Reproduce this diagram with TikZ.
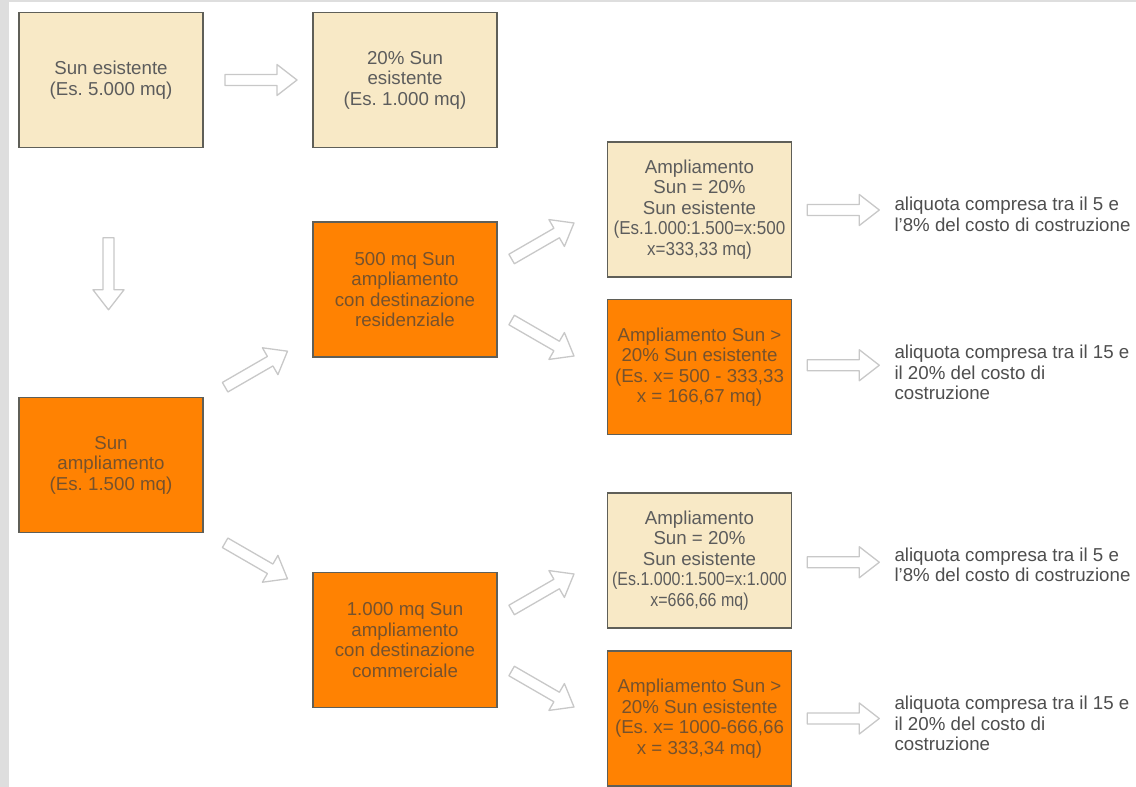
\documentclass[tikz,border=0pt]{standalone}
\usepackage{fontspec}
\usepackage{graphicx}
\setmainfont{Liberation Sans}
\frenchspacing
\usetikzlibrary{calc}
\definecolor{beige}{RGB}{248,233,198}
\definecolor{orangebox}{RGB}{255,130,2}
\definecolor{boxline}{RGB}{95,95,88}
\definecolor{txtgrey}{RGB}{92,92,92}
\definecolor{txtorange}{RGB}{118,82,45}
\definecolor{txtright}{RGB}{78,78,78}
\definecolor{arrowgrey}{RGB}{200,200,200}
\definecolor{stripgrey}{RGB}{222,222,222}
\tikzset{
  box/.style={draw=boxline, line width=1.6pt, minimum width=184pt, minimum height=135pt,
    inner sep=0pt, align=center, font=\fontsize{18.7}{20.5}\selectfont},
  lightbox/.style={box, fill=beige, text=txtgrey},
  darkbox/.style={box, fill=orangebox, text=txtorange},
  sidetext/.style={anchor=west, inner sep=0pt, align=left, text=txtright,
    font=\fontsize{18.7}{20.5}\selectfont},
  arrowline/.style={draw=arrowgrey, fill=white, line width=1.3pt, line join=round},
  barrow/.pic={\path[arrowline] (-36,-5.5) -- (16,-5.5) -- (16,-15.5) -- (36,0) -- (16,15.5) -- (16,5.5) -- (-36,5.5) -- cycle;}
}
\begin{document}
\begin{tikzpicture}[x=1pt,y=-1pt]
\useasboundingbox (0,0) rectangle (1136,787);
\fill[white] (0,0) rectangle (1136,787);
\fill[stripgrey] (0,0) rectangle (9,787);
\fill[stripgrey] (0,0) rectangle (1136,2);

\node[lightbox] (A) at (111,80) {Sun esistente\\(Es. 5.000 mq)};
\node[lightbox] (B) at (405,80) {20\% Sun\\esistente\\(Es. 1.000 mq)};
\node[darkbox] (C) at (111,465) {Sun\\ampliamento\\(Es. 1.500 mq)};
\node[darkbox] (D) at (405,289.5) {500 mq Sun\\ampliamento\\con destinazione\\residenziale};
\node[darkbox] (E) at (405,640) {1.000 mq Sun\\ampliamento\\con destinazione\\commerciale};
\node[lightbox] (F) at (699.5,209.5) {Ampliamento\\Sun = 20\%\\Sun esistente\\\scalebox{0.91}[1]{(Es.1.000:1.500=x:500}\\\scalebox{0.91}[1]{x=333,33 mq)}};
\node[darkbox] (G) at (699.5,367) {Ampliamento Sun >\\20\% Sun esistente\\(Es. x= 500 - 333,33\\x = 166,67 mq)};
\node[lightbox] (H) at (699.5,560.5) {Ampliamento\\Sun = 20\%\\Sun esistente\\\scalebox{0.855}[1]{(Es.1.000:1.500=x:1.000}\\\scalebox{0.855}[1]{x=666,66 mq)}};
\node[darkbox] (I) at (699.5,718.5) {Ampliamento Sun >\\20\% Sun esistente\\(Es. x= 1000-666,66\\x = 333,34 mq)};

\node[sidetext] (t1) at ($(F.east)+(102,5)$) {aliquota compresa tra il 5 e\\l'8\% del costo di costruzione};
\node[sidetext] (t2) at ($(G.east)+(102,5.5)$) {aliquota compresa tra il 15 e\\il 20\% del costo di\\costruzione};
\node[sidetext] (t3) at ($(H.east)+(102,4.5)$) {aliquota compresa tra il 5 e\\l'8\% del costo di costruzione};
\node[sidetext] (t4) at ($(I.east)+(102,5)$) {aliquota compresa tra il 15 e\\il 20\% del costo di\\costruzione};

\pic at ($(A.east)!0.5!(B.west)+(3,0)$) {barrow};
\pic[rotate=-90] at ($(A.south)+(-2.5,125.5)$) {barrow};
\pic[rotate=30] at ($(C.north east)+(52.5,-27.5)$) {barrow};
\pic[rotate=-30] at ($(C.south east)+(52.5,27.5)$) {barrow};
\pic[rotate=30] at ($(D.east)+(45,-48.5)$) {barrow};
\pic[rotate=-30] at ($(D.east)+(45,48.5)$) {barrow};
\pic[rotate=30] at ($(E.east)+(45,-48)$) {barrow};
\pic[rotate=-30] at ($(E.east)+(45,49)$) {barrow};
\pic at ($(F.east)!0.5!(t1.west)+(0,-2)$) {barrow};
\pic at ($(G.east)!0.5!(t2.west)+(0,-4.5)$) {barrow};
\pic at ($(H.east)!0.5!(t3.west)+(0,-0.5)$) {barrow};
\pic at ($(I.east)!0.5!(t4.west)+(0,-2.5)$) {barrow};
\end{tikzpicture}
\end{document}
